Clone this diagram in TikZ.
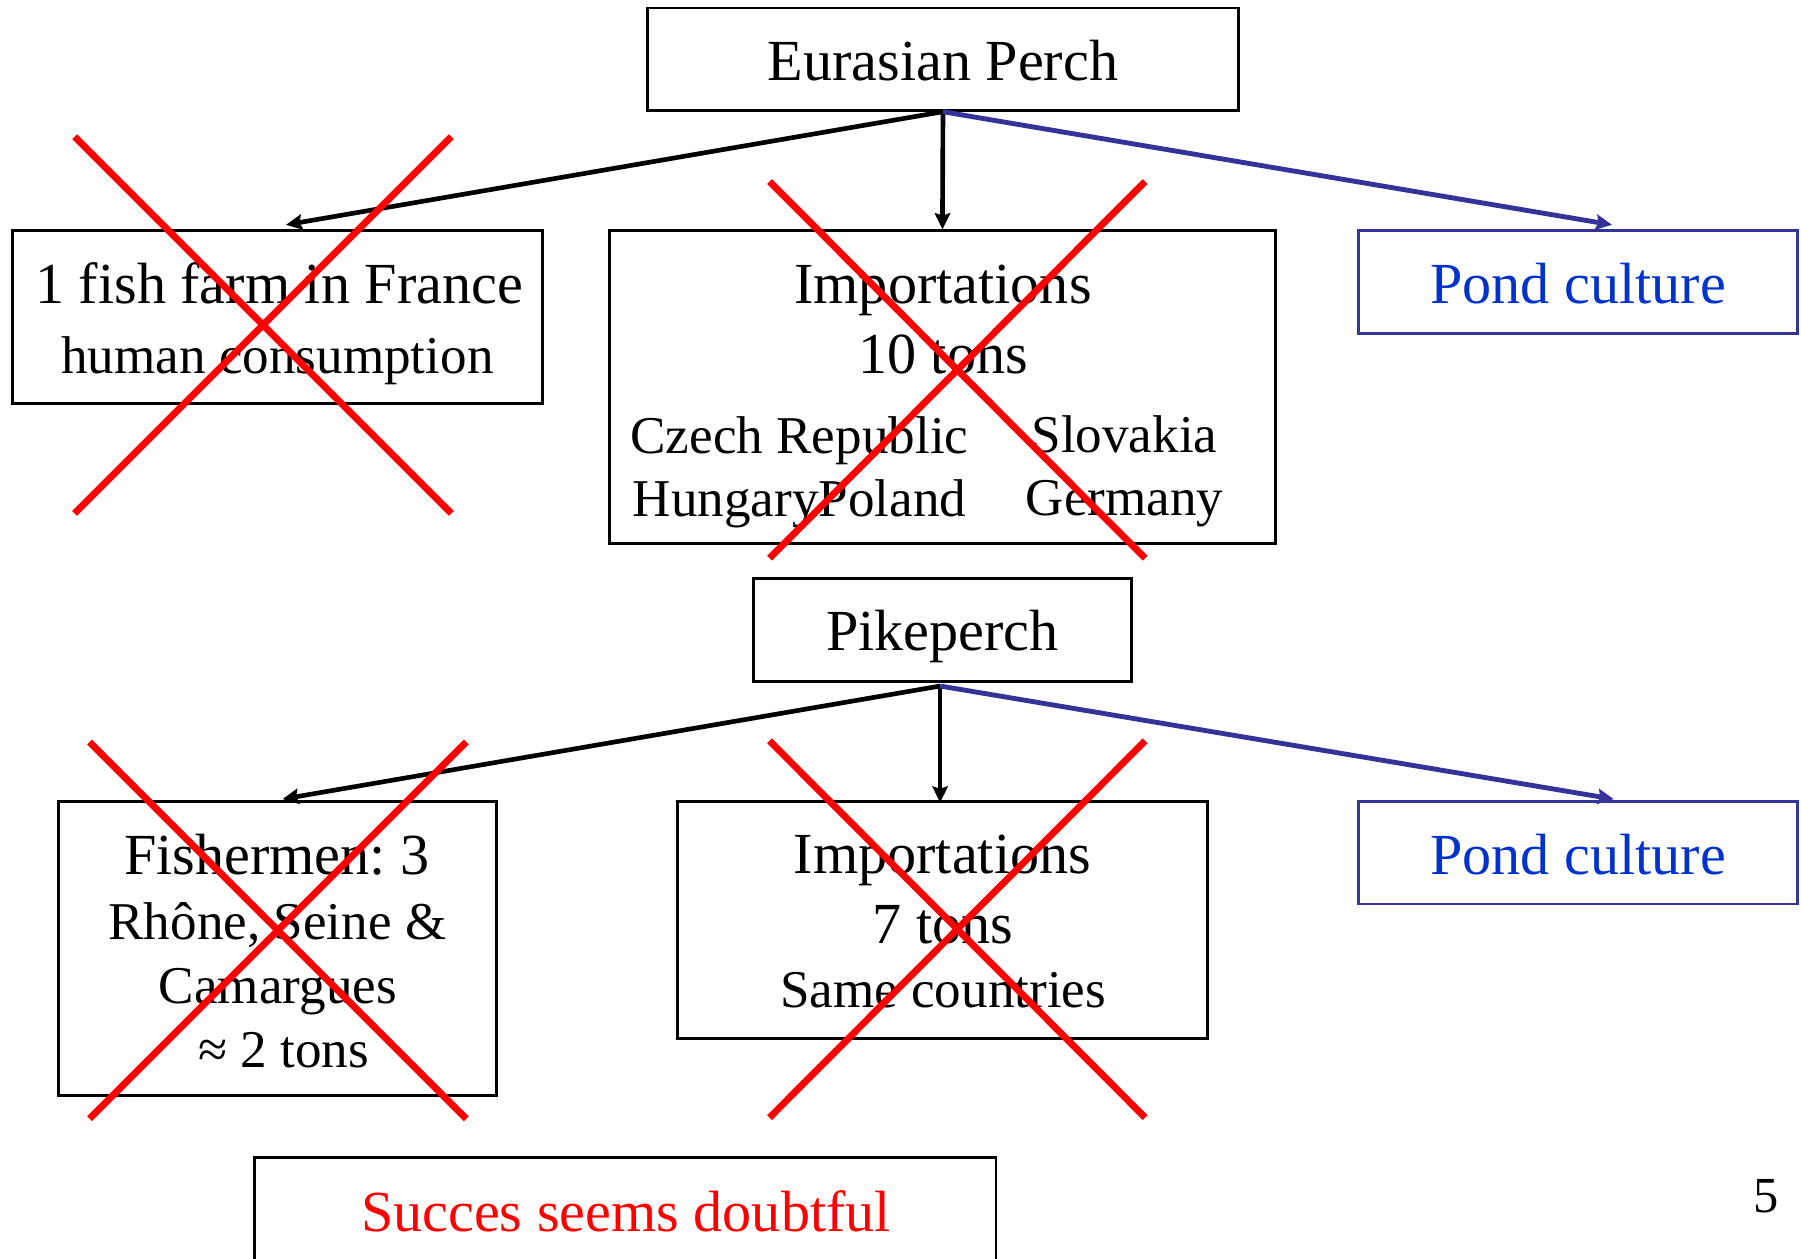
\documentclass[tikz,border=0pt]{standalone}
\usepackage{fontspec}
\setmainfont{Liberation Serif}
\usetikzlibrary{arrows.meta,calc}
\definecolor{pondtext}{RGB}{0,51,204}
\definecolor{pondline}{RGB}{51,51,153}
\definecolor{crossred}{RGB}{255,0,0}
\frenchspacing
\begin{document}
\begin{tikzpicture}[x=0.01cm,y=-0.01cm,
  box/.style={draw=black,line width=0.7pt,inner sep=0pt},
  pbox/.style={draw=pondline,line width=0.7pt,inner sep=0pt},
  big/.style={font=\fontsize{14.4}{17}\selectfont,inner sep=0pt,anchor=base},
  small/.style={font=\fontsize{13.15}{16}\selectfont,inner sep=0pt,anchor=base},
  arr/.style={line width=1.15pt,-{Stealth[length=4pt,width=3.8pt,inset=0.6pt]}},
  barr/.style={arr,draw=pondline,line width=1.2pt},
  xline/.style={draw=crossred,line width=1.7pt}
]
\clip (0,0) rectangle (1568,1096);
\fill[white] (0,0) rectangle (1568,1096);

% boxes
\node[box,minimum width=5.14cm,minimum height=0.89cm] (eur) at (821,51.5) {};
\node[box,minimum width=4.61cm,minimum height=1.50cm] (fish) at (241.5,276) {};
\node[box,minimum width=5.79cm,minimum height=2.72cm] (imp1) at (820.5,337) {};
\node[pbox,minimum width=3.82cm,minimum height=0.89cm] (pond1) at (1374,245.5) {};
\node[box,minimum width=3.29cm,minimum height=0.89cm] (pike) at (820.5,548.5) {};
\node[box,minimum width=3.81cm,minimum height=2.56cm] (fishm) at (241.5,826) {};
\node[box,minimum width=4.61cm,minimum height=2.06cm] (imp2) at (820.5,801) {};
\node[pbox,minimum width=3.82cm,minimum height=0.89cm] (pond2) at (1374,742.5) {};
\node[box,minimum width=6.45cm,minimum height=2.00cm] (succ) at (544.5,1108) {};

% texts
\node[big] (t1) at (821,70) {Eurasian Perch};
\node[big] (t2) at (243,264) {1 fish farm in France};
\node[small] (t3) at (241.5,325.6) {human consumption};
\node[big] (t4) at (821,264) {Importations};
\node[big] (t5) at (821,325) {10 tons};
\node[small] (t6) at (696,394.6) {Czech Republic};
\node[small] (t7) at (696,450) {HungaryPoland};
\node[small] (t8) at (979,394) {Slovakia};
\node[small] (t9) at (979,449) {Germany};
\node[big,text=pondtext] (t10) at (1374,264.6) {Pond culture};
\node[big] (t11) at (820.5,566) {Pikeperch};
\node[big] (t12) at (241,761.6) {Fishermen: 3};
\node[small] (t13) at (241.5,818) {Rhône, Seine \&};
\node[small] (t14) at (242,874) {Camargues};
\node[small] (t15) at (247,929.3) {≈ 2 tons};
\node[big] (t16) at (820.5,760.3) {Importations};
\node[big] (t17) at (821,821.3) {7 tons};
\node[small] (t18) at (821,877.4) {Same countries};
\node[big,text=pondtext] (t19) at (1374,761.6) {Pond culture};
\node[big,text=crossred] (t20) at (545,1072) {Succes seems doubtful};
\node[font=\fontsize{12.5}{15}\selectfont,inner sep=0pt,anchor=base] (t21) at (1538,1056) {5};

% connectors
\draw[arr] (eur.south) -- ($(fish.north)+(7.5,-4)$);
\draw[arr] (eur.south) -- (imp1.north);
\draw[barr] (eur.south) -- ($(pond1.north)+(29.5,-4)$);
\draw[arr] ($(pike.south)+(-2,3)$) -- ($(fishm.north)+(4.5,-1)$);
\draw[arr] ($(pike.south)+(-2,3)$) -- ($(imp2.north)+(-2,2)$);
\draw[barr] ($(pike.south)+(-2,3)$) -- ($(pond2.north)+(31,-1)$);

% red crosses
\draw[xline] (65,119) -- (393,447);
\draw[xline] (393,119) -- (65,447);
\draw[xline] (670,158) -- (997,486);
\draw[xline] (997,158) -- (670,486);
\draw[xline] (78,646) -- (406,974);
\draw[xline] (406,646) -- (78,974);
\draw[xline] (670,645) -- (997,973);
\draw[xline] (997,645) -- (670,973);
\end{tikzpicture}
\end{document}
